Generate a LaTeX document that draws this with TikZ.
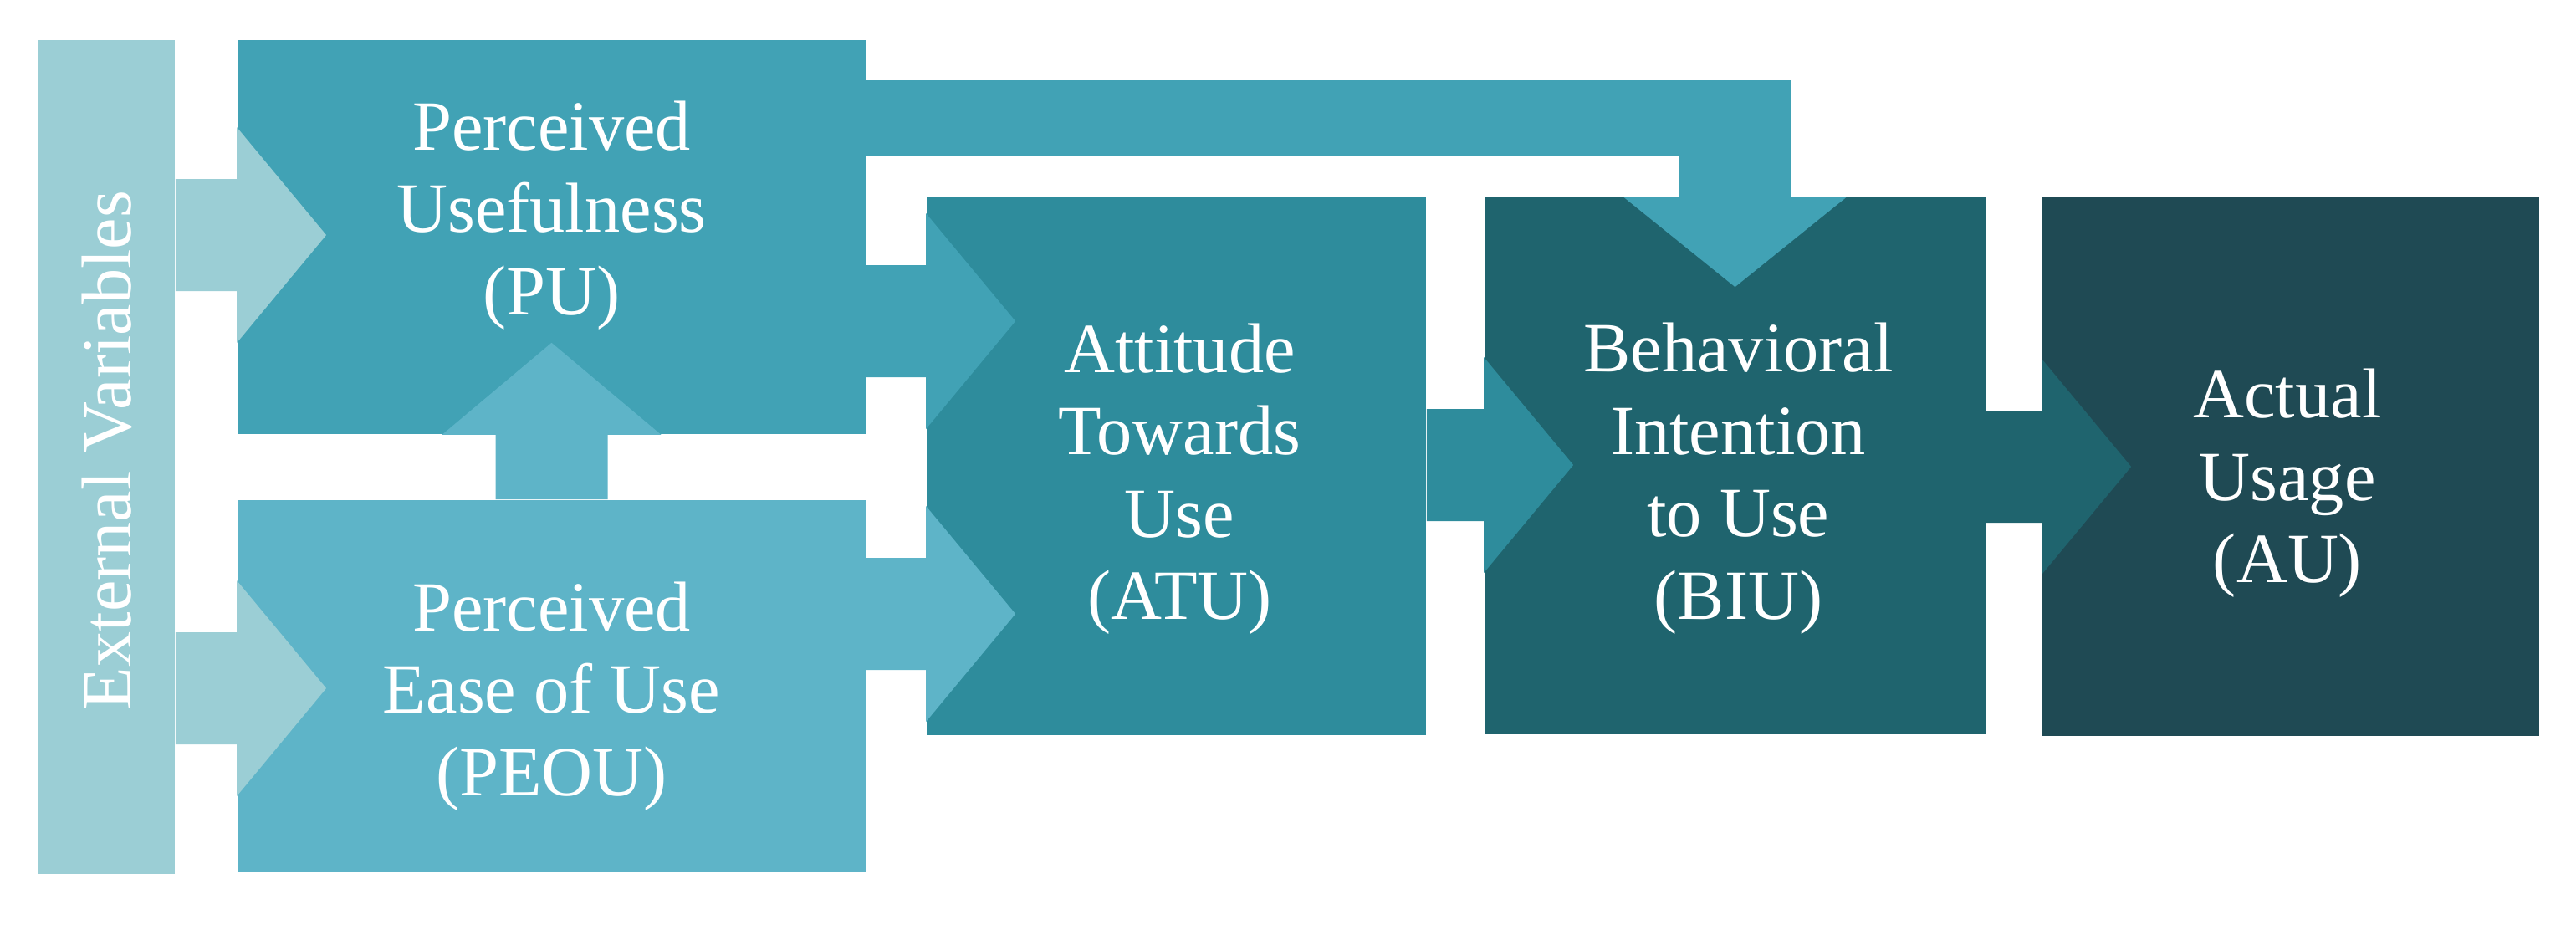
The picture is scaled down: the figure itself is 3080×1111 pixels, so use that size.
\documentclass[tikz,border=0pt]{standalone}
\usepackage{fontspec}
\setmainfont{Liberation Serif}
\usepackage{tikz}
\usetikzlibrary{calc}

\definecolor{extc}{HTML}{9BCED5}
\definecolor{puc}{HTML}{41A2B5}
\definecolor{peouc}{HTML}{5EB4C8}
\definecolor{atuc}{HTML}{2E8C9C}
\definecolor{biuc}{HTML}{1F646E}
\definecolor{auc}{HTML}{1F4A54}

\tikzset{
    box/.style={rectangle, inner sep=0pt, draw=none},
    lbl/.style={text=white, align=center, font=\fontsize{24}{28}\selectfont}
}

\begin{document}
\begin{tikzpicture}[x=0.01cm, y=-0.01cm]
    \useasboundingbox (0,0) rectangle (3080,1111);

    % Boxes
    \node[box, fill=extc, minimum width=1.63cm, minimum height=9.97cm] (ext) at (127.5,546.5) {};
    \node[box, fill=puc, minimum width=7.51cm, minimum height=4.71cm] (pu) at (659.5,283.5) {};
    \node[box, fill=peouc, minimum width=7.51cm, minimum height=4.45cm] (peou) at (659.5,820.5) {};
    \node[box, fill=atuc, minimum width=5.97cm, minimum height=6.43cm] (atu) at (1406.5,557.5) {};
    \node[box, fill=biuc, minimum width=5.99cm, minimum height=6.42cm] (biu) at (2074.5,557) {};
    \node[box, fill=auc, minimum width=5.94cm, minimum height=6.44cm] (au) at (2739,558) {};

    % Block arrows to the right
    \foreach \s/\t/\c/\col in {ext/pu/281/extc, ext/peou/823/extc, pu/atu/384/puc,
                                peou/atu/734/peouc, atu/biu/556/atuc, biu/au/558/biuc}
        \fill[\col] (\s.east |- 0,\c-67) -- (\t.west |- 0,\c-67) -- (\t.west |- 0,\c-129)
            -- ($(\t.west |- 0,\c)+(107,0)$) -- (\t.west |- 0,\c+129)
            -- (\t.west |- 0,\c+67) -- (\s.east |- 0,\c+67) -- cycle;

    % PEOU up to PU
    \fill[peouc] ($(peou.north)+(-67,0)$) -- ($(pu.south)+(-67,0)$) -- ($(pu.south)+(-131,0)$)
        -- ($(pu.south)+(0,-110)$) -- ($(pu.south)+(131,0)$) -- ($(pu.south)+(67,0)$)
        -- ($(peou.north)+(67,0)$) -- cycle;

    % PU over the top to BIU
    \fill[puc] (pu.east |- 0,96) -- ($(biu.north |- 0,96)+(67,0)$) -- ($(biu.north)+(67,0)$)
        -- ($(biu.north)+(134,0)$) -- ($(biu.north)+(0,108)$) -- ($(biu.north)+(-134,0)$)
        -- ($(biu.north)+(-67,0)$) -- ($(biu.north |- 0,186)+(-67,0)$) -- (pu.east |- 0,186) -- cycle;

    % Labels
    \node[lbl, rotate=90] (extlbl) at ($(ext.center)+(0,-8)$) {External Variables};
    \node[lbl] (pulbl) at ($(pu.center)+(0,-26)$) {Perceived\\Usefulness\\(PU)};
    \node[lbl] (peoulbl) at ($(peou.center)+(0,12)$) {Perceived\\Ease of Use\\(PEOU)};
    \node[lbl] (atulbl) at ($(atu.center)+(4,15)$) {Attitude\\Towards\\Use\\(ATU)};
    \node[lbl] (biulbl) at ($(biu.center)+(4,15)$) {Behavioral\\Intention\\to Use\\(BIU)};
    \node[lbl] (aulbl) at ($(au.center)+(-4,20)$) {Actual\\Usage\\(AU)};
\end{tikzpicture}
\end{document}
